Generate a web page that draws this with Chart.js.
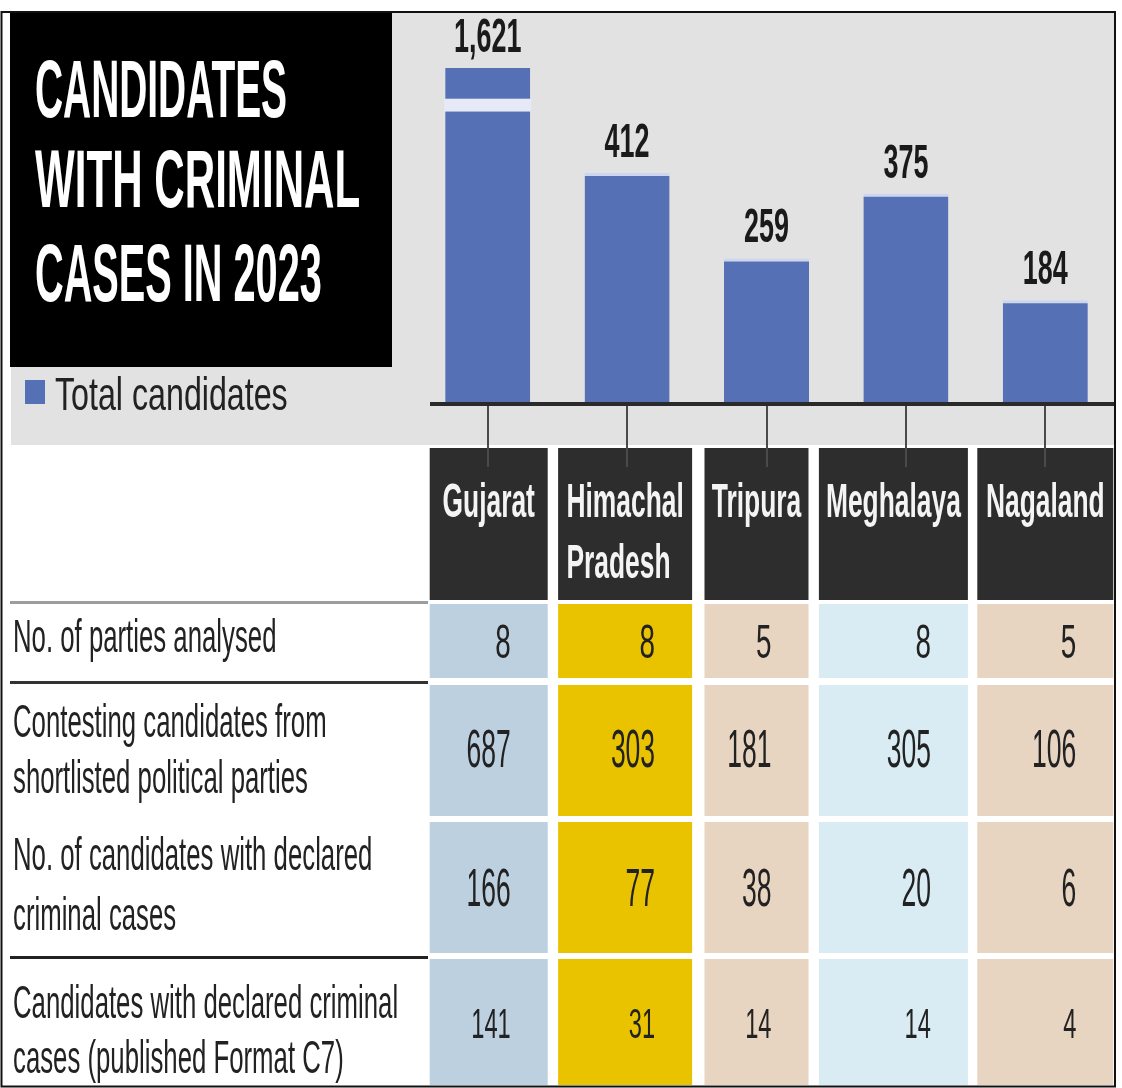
<!DOCTYPE html>
<html>
<head>
<meta charset="utf-8">
<title>Candidates with criminal cases in 2023</title>
<script src="https://cdn.jsdelivr.net/npm/chart.js@4.4.1/dist/chart.umd.min.js"></script>
<style>
html, body { margin: 0; padding: 0; background: #fff; }
canvas { display: block; }
</style>
</head>
<body>
<canvas id="myChart" width="1122" height="1088"></canvas>
<script>
var states = [['Gujarat'], ['Himachal', 'Pradesh'], ['Tripura'], ['Meghalaya'], ['Nagaland']];
var totalCandidates = [1621, 412, 259, 375, 184];

var rowLabels = [
    ['No. of parties analysed'],
    ['Contesting candidates from', 'shortlisted political parties'],
    ['No. of candidates with declared', 'criminal cases'],
    ['Candidates with declared criminal', 'cases (published Format C7)']
];
var partiesAnalysed = [8, 8, 5, 8, 5];
var contestingCandidates = [687, 303, 181, 305, 106];
var declaredCriminal = [166, 77, 38, 20, 6];
var publishedC7 = [141, 31, 14, 14, 4];
var tableRows = [partiesAnalysed, contestingCandidates, declaredCriminal, publishedC7];

var titleLines = ['CANDIDATES', 'WITH CRIMINAL', 'CASES IN 2023'];

// look & layout
var FONT = '"Liberation Sans", Arial, sans-serif';
var barBlue = '#5670b5';
var colFill = ['#bdd0e0', '#e9c300', '#e7d4c1', '#d9ecf4', '#e7d4c1'];
var colSpan = [[-58, 60], [-69, 65], [-62, 42], [-87, 62], [-68, 68]]; // offsets from the x tick
var rowBox = [
    {top: 604, bottom: 678, lines: [652], valY: 658, valSize: 48, valSx: 0.58},
    {top: 685, bottom: 816, lines: [737, 793], valY: 767, valSize: 53, valSx: 0.5},
    {top: 822, bottom: 953, lines: [870, 930], valY: 906, valSize: 53, valSx: 0.5},
    {top: 959, bottom: 1085, lines: [1018, 1073], valY: 1038, valSize: 43, valSx: 0.55}
];
var leftRules = [{y: 602, color: '#9d9d9d'}, {y: 682, color: '#333'}, {y: 957, color: '#222'}];
var titleSx = [0.48, 0.52, 0.49];

// draws condensed text (horizontal squeeze sx)
function txt(c, s, x, y, size, weight, sx, color, align) {
    c.save();
    c.font = weight + ' ' + size + 'px ' + FONT;
    c.fillStyle = color;
    c.textBaseline = 'alphabetic';
    c.textAlign = 'left';
    var w = c.measureText(s).width * sx;
    var left = align === 'center' ? x - w / 2 : (align === 'right' ? x - w : x);
    c.translate(left, y);
    c.scale(sx, 1);
    c.fillText(s, 0, 0);
    c.restore();
    return w;
}

var infographic = {
    id: 'infographic',
    beforeDraw: function (chart) {
        var c = chart.ctx;
        c.save();
        c.fillStyle = '#fff';
        c.fillRect(0, 0, chart.width, chart.height);
        // grey panel behind the bars
        c.fillStyle = '#e2e2e2';
        c.fillRect(11, 13, 1103, 432);
        // title block
        c.fillStyle = '#000';
        c.fillRect(10, 13, 382, 354);
        c.restore();
        var base = [117, 207, 301];
        titleLines.forEach(function (t, i) {
            txt(c, t, 35, base[i], 81, 'bold', titleSx[i], '#fff', 'left');
        });
        // legend
        var ds = chart.data.datasets[0];
        c.fillStyle = ds.backgroundColor;
        c.fillRect(25, 380, 20, 24);
        txt(c, ds.label, 55, 410, 46, 'normal', 0.7, '#222', 'left');
    },
    afterDatasetsDraw: function (chart) {
        var c = chart.ctx;
        var x = chart.scales.x, y = chart.scales.y, area = chart.chartArea;
        var meta = chart.getDatasetMeta(0);
        var values = chart.data.datasets[0].data;

        // bars taller than the axis get a break
        meta.data.forEach(function (bar, i) {
            if (values[i] > y.max) {
                c.fillStyle = '#e6eaf6';
                var y1 = y.getPixelForValue(545), y2 = y.getPixelForValue(522);
                c.fillRect(bar.x - bar.width / 2 - 1, y1, bar.width + 2, y2 - y1);
            }
            var top = Math.max(bar.y, area.top);
            txt(c, values[i].toLocaleString('en-US'), bar.x, top - 16, 49, 'bold', 0.55, '#1a1a1a', 'center');
        });

        // baseline
        c.fillStyle = '#2a2a2a';
        c.fillRect(430, area.bottom - 1, area.right - 430 - 1, 4);

        // header cells
        states.forEach(function (lines, i) {
            var cx = x.getPixelForValue(i);
            var l = cx + colSpan[i][0], r = cx + colSpan[i][1];
            var mid = (l + r) / 2;
            c.fillStyle = '#2d2d2d';
            c.fillRect(l, 448, r - l, 152);
            var maxW = 0;
            c.font = 'bold 48px ' + FONT;
            lines.forEach(function (s) { maxW = Math.max(maxW, c.measureText(s).width * 0.55); });
            lines.forEach(function (s, k) {
                txt(c, s, mid - maxW / 2, 517 + k * 61, 48, 'bold', 0.55, '#f4f4f4', 'left');
            });
            // value cells
            rowBox.forEach(function (rb, j) {
                c.fillStyle = colFill[i];
                c.fillRect(l, rb.top, r - l, rb.bottom - rb.top);
                txt(c, String(tableRows[j][i]), r - 37, rb.valY, rb.valSize, 'normal', rb.valSx, '#222', 'right');
            });
        });

        // row labels
        rowBox.forEach(function (rb, j) {
            rowLabels[j].forEach(function (s, k) {
                txt(c, s, 13, rb.lines[k], 46, 'normal', 0.56, '#222', 'left');
            });
        });
        leftRules.forEach(function (rl) {
            c.fillStyle = rl.color;
            c.fillRect(10, rl.y - 1, 418, 3);
        });

        // ticks joining bars to the header cells
        c.strokeStyle = '#4a4a4a';
        c.lineWidth = 2;
        meta.data.forEach(function (bar) {
            c.beginPath();
            c.moveTo(Math.round(bar.x), area.bottom + 3);
            c.lineTo(Math.round(bar.x), 467);
            c.stroke();
        });

        // outer frame
        c.strokeStyle = '#111';
        c.lineWidth = 2;
        c.strokeRect(1.5, 12, 1113.5, 1074.5);
    }
};

var ctx = document.getElementById('myChart').getContext('2d');
var myChart = new Chart(ctx, {
    type: 'bar',
    data: {
        labels: states,
        datasets: [{
            label: 'Total candidates',
            data: totalCandidates,
            backgroundColor: barBlue,
            borderColor: '#cdd6ef',
            borderWidth: {top: 3, left: 0, right: 0, bottom: 0},
            barPercentage: 0.61,
            categoryPercentage: 1
        }]
    },
    options: {
        responsive: false,
        animation: false,
        layout: {padding: {left: 418, right: 7, top: 68, bottom: 685}},
        scales: {
            x: {display: false},
            y: {display: false, min: 0, max: 600}
        },
        plugins: {
            legend: {display: false},
            tooltip: {enabled: false}
        }
    },
    plugins: [infographic]
});
</script>
</body>
</html>
